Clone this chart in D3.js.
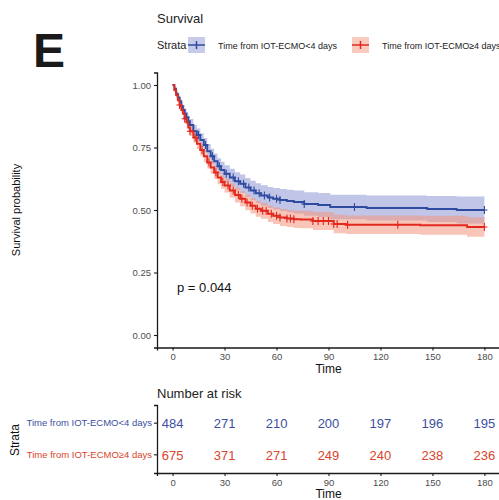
<!DOCTYPE html>
<html>
<head>
<meta charset="utf-8">
<script src="https://cdn.jsdelivr.net/npm/d3@7"></script>
<style>
  body { margin: 0; background: #fff; }
  text { font-family: "Liberation Sans", Arial, sans-serif; }
</style>
</head>
<body>
<div id="container"></div>
<script>
/* DATA */
const groups = ["Time from IOT-ECMO<4 days", "Time from IOT-ECMO\u22654 days"];
const timeTicks = [0, 30, 60, 90, 120, 150, 180];
const survTicks = [0, 0.25, 0.5, 0.75, 1];

const blueTime = [0,1,2,3,4,5,6,7,8,9,10,12,14,16,18,20,22,24,26,28,30,33,36,39,42,45,48,51,55,58,62,66,70,76,84,91,112,147,164,180];
const blueSurv = [1,.985,.965,.95,.935,.915,.9,.885,.87,.855,.84,.815,.8,.78,.76,.735,.715,.695,.675,.66,.645,.63,.615,.605,.59,.578,.567,.558,.55,.545,.54,.536,.532,.524,.52,.512,.508,.504,.5,.5];
const blueLower = [1,.975,.952,.935,.918,.896,.88,.864,.848,.832,.816,.79,.774,.753,.732,.706,.685,.664,.643,.627,.611,.595,.579,.568,.552,.539,.527,.517,.508,.502,.496,.491,.486,.477,.472,.463,.458,.452,.446,.446];
const blueUpper = [1,.995,.978,.965,.952,.934,.92,.906,.892,.878,.864,.84,.826,.807,.788,.764,.745,.726,.707,.693,.679,.665,.651,.642,.628,.617,.607,.599,.592,.588,.584,.581,.578,.571,.568,.561,.558,.556,.554,.554];
const blueCensor = [8,12,15,19,23,27,31,35,38,41,44,47,50,53,56,60,62,76,105,180];

const redTime = [0,1,2,3,4,5,6,7,8,9,10,12,14,16,18,20,22,24,26,28,30,33,36,39,42,45,48,51,55,58,62,66,70,74,81,93,100,143,170,180];
const redSurv = [1,.98,.96,.94,.92,.9,.885,.865,.85,.83,.815,.79,.765,.74,.715,.69,.67,.65,.63,.612,.598,.578,.56,.545,.53,.517,.505,.497,.485,.477,.47,.466,.463,.462,.456,.444,.441,.439,.432,.432];
const redLower = [1,.972,.95,.928,.907,.886,.87,.849,.833,.812,.796,.77,.744,.718,.692,.666,.645,.624,.603,.585,.57,.549,.53,.515,.499,.486,.473,.465,.452,.444,.436,.432,.428,.427,.42,.407,.404,.401,.393,.393];
const redUpper = [1,.988,.97,.952,.933,.914,.9,.881,.867,.848,.834,.81,.786,.762,.738,.714,.695,.676,.657,.639,.626,.607,.59,.575,.561,.548,.537,.529,.518,.51,.504,.5,.498,.497,.492,.481,.478,.477,.471,.471];
const redCensor = [4,7,10,13,17,21,25,29,32,35,38,40,43,46,49,52,54,57,60,62,66,68,70,81,84,87,90,93,95,101,130,180];

const riskBlue = [484, 271, 210, 200, 197, 196, 195];
const riskRed = [675, 371, 271, 249, 240, 238, 236];

const lineColors = ["#2f4b9f", "#e3281e"];
const bandColors = ["#8e98d6", "#f3957d"];
const riskColors = ["#3d4f9f", "#d8442c"];

/* LAYOUT */
const width = 499, height = 500;
const svg = d3.select("#container").append("svg")
  .attr("width", width).attr("height", height);

const x = d3.scaleLinear().domain([-9, 189]).range([157, 500]);
const y = d3.scaleLinear().domain([-0.05, 1.05]).range([347.5, 72.5]);

const series = [
  { time: blueTime, surv: blueSurv, lo: blueLower, hi: blueUpper, cens: blueCensor },
  { time: redTime, surv: redSurv, lo: redLower, hi: redUpper, cens: redCensor }
];

// panel letter
svg.append("text").attr("x", 33).attr("y", 67)
  .attr("font-size", 48).attr("font-weight", "bold").attr("fill", "#1a1a1a").text("E");

// title + legend
svg.append("text").attr("x", 157).attr("y", 23).attr("font-size", 13).attr("fill", "#222").text("Survival");
svg.append("text").attr("x", 157).attr("y", 49).attr("font-size", 11).attr("fill", "#222").text("Strata");
const legendX = [188, 352];
groups.forEach((g, i) => {
  const lg = svg.append("g").attr("transform", `translate(${legendX[i]},37)`);
  lg.append("rect").attr("width", 17).attr("height", 16).attr("fill", bandColors[i]).attr("opacity", 0.5);
  lg.append("line").attr("x1", 0).attr("x2", 17).attr("y1", 8).attr("y2", 8).attr("stroke", lineColors[i]).attr("stroke-width", 1.5);
  lg.append("line").attr("x1", 8.5).attr("x2", 8.5).attr("y1", 4).attr("y2", 12).attr("stroke", lineColors[i]).attr("stroke-width", 1.5);
  lg.append("text").attr("x", 30).attr("y", 12).attr("font-size", 9).attr("fill", "#222").text(g);
});

// bands
const area = d3.area().curve(d3.curveStepAfter)
  .x(d => x(d[0])).y0(d => y(d[1])).y1(d => y(d[2]));
const line = d3.line().curve(d3.curveStepAfter)
  .x(d => x(d[0])).y(d => y(d[1]));

series.forEach((s, i) => {
  svg.append("path")
    .attr("d", area(s.time.map((t, k) => [t, s.lo[k], s.hi[k]])))
    .attr("fill", bandColors[i]).attr("opacity", 0.55);
});
series.forEach((s, i) => {
  svg.append("path")
    .attr("d", line(s.time.map((t, k) => [t, s.surv[k]])))
    .attr("fill", "none").attr("stroke", lineColors[i]).attr("stroke-width", 1.8);
  // censor marks
  const survAt = t => s.surv[d3.bisectRight(s.time, t) - 1];
  const cg = svg.append("g").attr("stroke", lineColors[i]).attr("stroke-width", 1.1);
  s.cens.forEach(t => {
    const cx = x(t), cy = y(survAt(t));
    cg.append("line").attr("x1", cx).attr("x2", cx).attr("y1", cy - 4).attr("y2", cy + 4);
    cg.append("line").attr("x1", cx - 3).attr("x2", cx + 3).attr("y1", cy).attr("y2", cy);
  });
});

// axes
function styleAxis(g) {
  g.selectAll("path.domain").attr("stroke", "#1a1a1a").attr("stroke-width", 1.3);
  g.selectAll(".tick line").attr("stroke", "#1a1a1a").attr("stroke-width", 1.1);
  g.selectAll(".tick text").attr("fill", "#4d4d4d").attr("font-size", 9.5)
    .attr("font-family", "'Liberation Sans', Arial, sans-serif");
}
svg.append("g").attr("transform", "translate(157,0)")
  .call(d3.axisLeft(y).tickValues(survTicks).tickFormat(d3.format(".2f")).tickSizeOuter(0).tickSize(3).tickPadding(3))
  .call(styleAxis);
svg.append("g").attr("transform", "translate(0,347.5)")
  .call(d3.axisBottom(x).tickValues(timeTicks).tickFormat(d3.format("d")).tickSizeOuter(0).tickSize(3).tickPadding(3))
  .call(styleAxis);

svg.append("text").attr("x", x(90)).attr("y", 373).attr("text-anchor", "middle")
  .attr("font-size", 12).attr("fill", "#111").text("Time");
svg.append("text").attr("transform", "translate(20,210) rotate(-90)").attr("text-anchor", "middle")
  .attr("font-size", 11).attr("fill", "#111").text("Survival probability");
svg.append("text").attr("x", 177).attr("y", 292).attr("font-size", 13).attr("fill", "#111").text("p = 0.044");

/* RISK TABLE */
svg.append("text").attr("x", 157).attr("y", 398).attr("font-size", 13).attr("fill", "#222").text("Number at risk");
const yr = d3.scaleBand().domain(groups).range([405, 473]).padding(0.15);
const riskRows = [riskBlue, riskRed];
riskRows.forEach((row, i) => {
  svg.append("g").selectAll("text").data(row).join("text")
    .attr("x", (d, k) => x(timeTicks[k]))
    .attr("y", yr(groups[i]) + yr.bandwidth() / 2 + 5)
    .attr("text-anchor", "middle").attr("font-size", 13).attr("fill", riskColors[i])
    .text(d => d);
});
const ya = svg.append("g").attr("transform", "translate(157,0)")
  .call(d3.axisLeft(yr).tickSizeOuter(0).tickSize(3).tickPadding(2))
  .call(styleAxis);
ya.selectAll(".tick text").attr("fill", (d, i) => riskColors[i]).attr("font-size", 9.5);
svg.append("g").attr("transform", "translate(0,473)")
  .call(d3.axisBottom(x).tickValues(timeTicks).tickFormat(d3.format("d")).tickSizeOuter(0).tickSize(3).tickPadding(3))
  .call(styleAxis);
svg.append("text").attr("x", x(90)).attr("y", 498).attr("text-anchor", "middle")
  .attr("font-size", 12).attr("fill", "#111").text("Time");
svg.append("text").attr("transform", "translate(19,440) rotate(-90)").attr("text-anchor", "middle")
  .attr("font-size", 12).attr("fill", "#111").text("Strata");
</script>
</body>
</html>
